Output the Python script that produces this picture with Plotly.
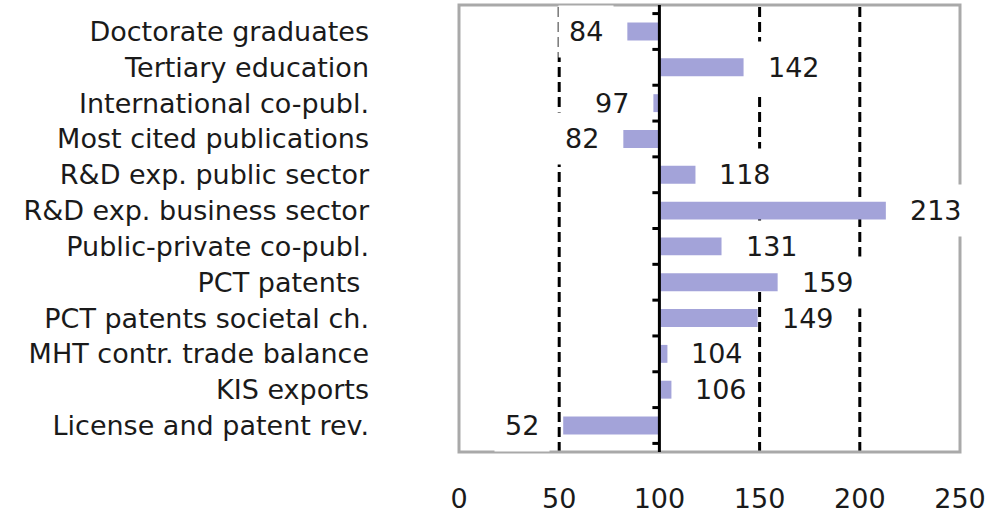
import plotly.graph_objects as go

categories = [
    "Doctorate graduates",
    "Tertiary education",
    "International co-publ.",
    "Most cited publications",
    "R&D exp. public sector",
    "R&D exp. business sector",
    "Public-private co-publ.",
    "PCT patents ",
    "PCT patents societal ch.",
    "MHT contr. trade balance",
    "KIS exports",
    "License and patent rev.",
]
values = [84, 142, 97, 82, 118, 213, 131, 159, 149, 104, 106, 52]
x_ticks = [0, 50, 100, 150, 200, 250]
dashed_refs = [50, 150, 200]
baseline = 100

BAR_COLOR = "#a3a3d9"
FONT = "DejaVu Sans"

fig = go.Figure()
fig.add_trace(go.Bar(
    y=categories,
    x=[v - baseline for v in values],
    base=baseline,
    orientation="h",
    marker=dict(color=BAR_COLOR, line=dict(width=0)),
    width=0.5,
    hoverinfo="skip",
))

shapes = []
for xv in dashed_refs:
    shapes.append(dict(type="line", xref="x", yref="paper", x0=xv, x1=xv, y0=0, y1=1,
                       line=dict(color="black", width=3, dash="10px,5px"), layer="below"))
shapes.append(dict(type="rect", xref="paper", yref="paper", x0=0, x1=1, y0=0, y1=1,
                   line=dict(color="#a9a9a9", width=3), layer="below"))
shapes.append(dict(type="line", xref="x", yref="paper", x0=baseline, x1=baseline, y0=0, y1=1,
                   line=dict(color="black", width=3)))
n = len(categories)
for i in range(n + 1):
    yb = i - 0.5
    shapes.append(dict(type="line", xref="x", yref="y", x0=baseline - 3.5, x1=baseline,
                       y0=yb, y1=yb, line=dict(color="black", width=3)))

annotations = []
for c, v in zip(categories, values):
    right = v >= baseline
    annotations.append(dict(
        x=v, y=c, xref="x", yref="y", text=str(v), showarrow=False,
        xanchor="left" if right else "right",
        xshift=13 if right else -13,
        font=dict(family=FONT, size=27, color="#1a1a1a"),
        bgcolor="white", borderpad=10,
    ))

fig.update_layout(
    width=987, height=520,
    margin=dict(l=459, r=27, t=5, b=68, autoexpand=False),
    paper_bgcolor="white", plot_bgcolor="white",
    showlegend=False,
    shapes=shapes,
    annotations=annotations,
    font=dict(family=FONT, size=27, color="#1a1a1a"),
    xaxis=dict(range=[0, 250], tickvals=x_ticks, ticktext=[str(t) for t in x_ticks],
               showgrid=False, zeroline=False, showline=False, ticks="", automargin=False,
               ticklabelstandoff=28, tickfont=dict(family=FONT, size=27, color="#1a1a1a")),
    yaxis=dict(type="category", categoryorder="array", categoryarray=categories,
               autorange="reversed", showgrid=False, zeroline=False, showline=False,
               ticks="", ticklabelstandoff=89, automargin=False,
               tickfont=dict(family=FONT, size=27, color="#1a1a1a")),
)

fig.write_html("out.html", config={"displayModeBar": False},
               post_script="document.body.style.margin='0';document.body.style.overflow='hidden';")
